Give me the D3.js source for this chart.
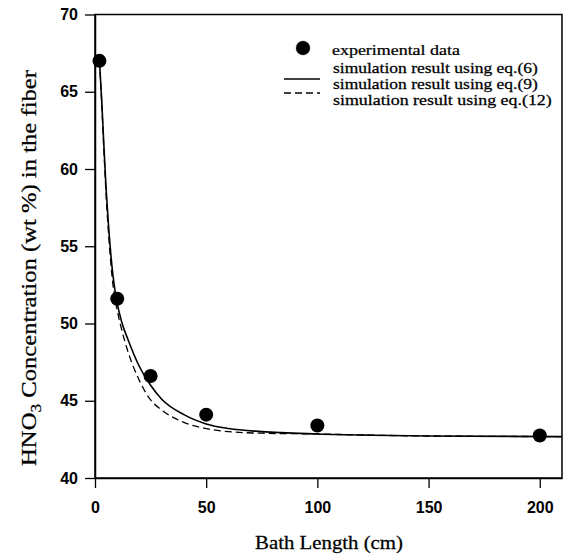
<!DOCTYPE html>
<html>
<head>
<meta charset="utf-8">
<script src="https://cdn.jsdelivr.net/npm/d3@7"></script>
<style>
  body { margin: 0; background: #fff; }
  svg { display: block; }
</style>
</head>
<body>
<svg id="chart" width="569" height="560"></svg>
<script>
// experimental points
var expX = [2, 10, 25, 50, 100, 200];
var expY = [67, 51.6, 46.6, 44.1, 43.4, 42.75];

// simulation eq.(9), solid
var solidX = [2, 3, 4, 5, 6, 8, 10, 12, 15, 20, 25, 30, 40, 50, 60, 75, 100, 125, 150, 210];
var solidY = [67, 64.5, 61.5, 58.7, 56.5, 53.2, 51.3, 50.1, 48.9, 47.2, 46.0, 45.1, 44.1, 43.5, 43.2, 43.0, 42.85, 42.77, 42.72, 42.68];

// simulation eq.(12), dashed
var dashX = [2, 3, 4, 5, 6, 8, 10, 12, 15, 20, 25, 30, 40, 50, 60, 75, 100, 125, 150, 210];
var dashY = [67, 64.3, 61.2, 58.3, 56.0, 52.6, 50.85, 49.6, 48.1, 46.3, 45.05, 44.4, 43.6, 43.2, 43.0, 42.9, 42.85, 42.77, 42.72, 42.68];

var xTicks = [0, 50, 100, 150, 200];
var yTicks = [40, 45, 50, 55, 60, 65, 70];

var legendLabels = ["experimental data", "simulation result using eq.(6)",
                    "simulation result using eq.(9)", "simulation result using eq.(12)"];

var serif = "'Liberation Serif', 'Times New Roman', serif";

var svg = d3.select("#chart");

var x = d3.scaleLinear().domain([0, 210]).range([95, 562]);
var y = d3.scaleLinear().domain([40, 70]).range([478, 14.5]);

// frame
svg.append("rect")
    .attr("x", x(0)).attr("y", y(70))
    .attr("width", x(210) - x(0)).attr("height", y(40) - y(70))
    .attr("fill", "none").attr("stroke", "#000").attr("stroke-width", 1.5);

// axes
var xAxis = svg.append("g")
    .attr("transform", "translate(0," + y(40) + ")")
    .call(d3.axisBottom(x).tickValues(xTicks).tickSize(10).tickPadding(14).tickSizeOuter(0));
var yAxis = svg.append("g")
    .attr("transform", "translate(" + x(0) + ",0)")
    .call(d3.axisLeft(y).tickValues(yTicks).tickSize(10).tickPadding(7).tickSizeOuter(0));

[xAxis, yAxis].forEach(function(g) {
  g.select(".domain").attr("stroke-width", 1.5);
  g.selectAll(".tick line").attr("stroke-width", 1.3);
  g.selectAll(".tick text")
      .attr("font-family", "'Liberation Sans', Arial, sans-serif")
      .attr("font-weight", "bold")
      .attr("font-size", 16)
      .attr("fill", "#000");
});

// curves
var line = d3.line()
    .x(function(d) { return x(d[0]); })
    .y(function(d) { return y(d[1]); })
    .curve(d3.curveMonotoneX);

svg.append("path")
    .datum(dashX.map(function(v, i) { return [v, dashY[i]]; }))
    .attr("d", line)
    .attr("fill", "none").attr("stroke", "#000")
    .attr("stroke-width", 1.3).attr("stroke-dasharray", "7,4");

svg.append("path")
    .datum(solidX.map(function(v, i) { return [v, solidY[i]]; }))
    .attr("d", line)
    .attr("fill", "none").attr("stroke", "#000").attr("stroke-width", 1.6);

// experimental points
svg.append("g").selectAll("circle")
    .data(expX.map(function(v, i) { return [v, expY[i]]; }))
  .enter().append("circle")
    .attr("cx", function(d) { return x(d[0]); })
    .attr("cy", function(d) { return y(d[1]); })
    .attr("r", 7)
    .attr("fill", "#000");

// stretch a text horizontally (in its own frame) to a given length
function stretchTo(sel, len, tx, ty, rot) {
  var w = sel.node().getComputedTextLength();
  sel.attr("transform", "translate(" + tx + "," + ty + ")" + (rot ? " rotate(" + rot + ")" : "") +
           " scale(" + (len / w) + ",1)");
}

// legend
var legend = svg.append("g")
    .attr("font-family", serif)
    .attr("font-size", 14)
    .attr("fill", "#000")
    .attr("stroke", "#000").attr("stroke-width", 0.25);
var legendY = [55, 72.5, 88.5, 104.5];
var legendW = [128, 205, 205, 219];

legend.append("circle").attr("cx", 303).attr("cy", 48).attr("r", 7).attr("fill", "#000");
legend.append("line").attr("x1", 284).attr("x2", 320).attr("y1", 79).attr("y2", 79)
    .attr("stroke", "#000").attr("stroke-width", 1.3);
legend.append("line").attr("x1", 284).attr("x2", 320).attr("y1", 93).attr("y2", 93)
    .attr("stroke", "#000").attr("stroke-width", 1.3).attr("stroke-dasharray", "7,4");

legendLabels.forEach(function(d, i) {
  var t = legend.append("text").text(d);
  stretchTo(t, legendW[i], i == 0 ? 332 : 333, legendY[i]);
});

// axis titles
var xTitle = svg.append("text")
    .attr("text-anchor", "middle")
    .attr("font-family", serif)
    .attr("font-size", 18.5)
    .attr("stroke", "#000").attr("stroke-width", 0.25)
    .text("Bath Length (cm)");
stretchTo(xTitle, 148, 329, 549);

var yTitle = svg.append("text")
    .attr("text-anchor", "middle")
    .attr("font-family", serif)
    .attr("font-size", 20)
    .attr("stroke", "#000").attr("stroke-width", 0.25);
yTitle.append("tspan").text("HNO");
yTitle.append("tspan").attr("dy", 5).attr("font-size", 14).text("3");
yTitle.append("tspan").attr("dy", -5).text(" Concentration (wt %) in the fiber");
stretchTo(yTitle, 396, 36, 268, -90);
</script>
</body>
</html>
